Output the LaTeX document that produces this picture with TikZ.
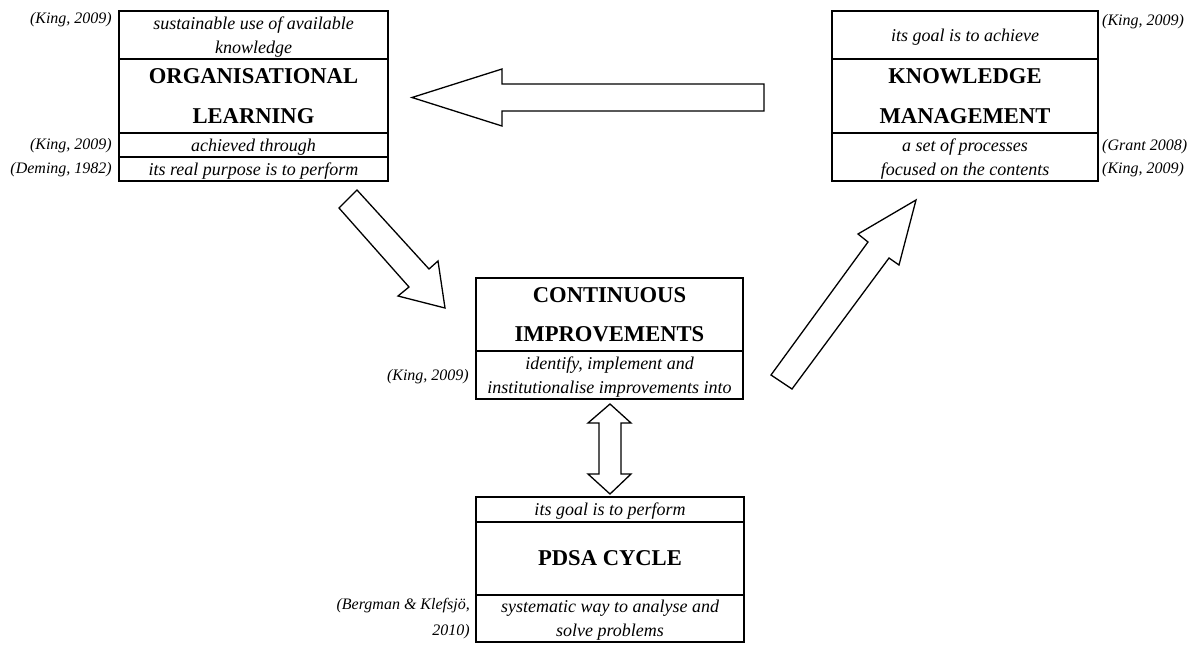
\documentclass[tikz,border=0pt]{standalone}
\usepackage{fontspec}
\setmainfont{Liberation Serif}
\begin{document}
\begin{tikzpicture}[x=1pt,y=-1pt,
  cell/.style={draw,line width=2pt,inner sep=0pt,outer sep=0pt,anchor=north west,align=center,
    text depth=-2pt,font=\fontsize{18}{24}\selectfont\itshape},
  titlecell/.style={cell,text depth=0pt,font=\fontsize{22.6}{39.5}\selectfont\bfseries},
  cite/.style={inner sep=0pt,font=\fontsize{16}{26}\selectfont\itshape},
  blockarrow/.style={draw,fill=white,line width=1.3pt,line join=miter}]
\useasboundingbox (0,0) rectangle (1197,646);

% Organisational learning
\node[cell,minimum width=269,minimum height=48] (orgUse) at (119,11)
  {sustainable use of available\\knowledge};
\node[titlecell,minimum width=269,minimum height=74] (orgTitle) at (orgUse.south west)
  {ORGANISATIONAL\\LEARNING};
\node[cell,minimum width=269,minimum height=24] (orgVia) at (orgTitle.south west)
  {achieved through};
\node[cell,minimum width=269,minimum height=24] (orgPurpose) at (orgVia.south west)
  {its real purpose is to perform};
\node[cite,anchor=east] (citeOrgA) at (112,20) {(King, 2009)};
\node[cite,anchor=east] (citeOrgB) at (112,146) {(King, 2009)};
\node[cite,anchor=east] (citeOrgC) at (112,170) {(Deming, 1982)};

% Knowledge management
\node[cell,minimum width=266,minimum height=48] (kmGoal) at (832,11)
  {its goal is to achieve};
\node[titlecell,minimum width=266,minimum height=74] (kmTitle) at (kmGoal.south west)
  {KNOWLEDGE\\MANAGEMENT};
\node[cell,minimum width=266,minimum height=48] (kmSet) at (kmTitle.south west)
  {a set of processes\\focused on the contents};
\node[cite,anchor=west] (citeKmA) at (1102,22) {(King, 2009)};
\node[cite,anchor=west] (citeKmB) at (1102,147) {(Grant 2008)};
\node[cite,anchor=west] (citeKmC) at (1102,170) {(King, 2009)};

% Continuous improvements
\node[titlecell,minimum width=267,minimum height=73] (ciTitle) at (476,278)
  {CONTINUOUS\\IMPROVEMENTS};
\node[cell,minimum width=267,minimum height=48] (ciText) at (ciTitle.south west)
  {identify, implement and\\institutionalise improvements into};
\node[cite,anchor=east] (citeCi) at (469,377) {(King, 2009)};

% PDSA cycle
\node[cell,minimum width=268,minimum height=25] (pdsaGoal) at (476,497)
  {its goal is to perform};
\node[titlecell,minimum width=268,minimum height=73] (pdsaTitle) at (pdsaGoal.south west)
  {PDSA CYCLE};
\node[cell,minimum width=268,minimum height=47] (pdsaText) at (pdsaTitle.south west)
  {systematic way to analyse and\\solve problems};
\node[cite,anchor=east,align=right] (citePdsa) at (470,619)
  {(Bergman \& Klefsjö,\\2010)};

% Block arrows
\draw[blockarrow] (764,84) -- (502,84) -- (502,69) -- (412,97.5) -- (502,126)
  -- (502,111) -- (764,111) -- cycle;
\draw[blockarrow] (339,208) -- (409,287) -- (398,296) -- (445,308) -- (438,261)
  -- (429,269) -- (357,190) -- cycle;
\draw[blockarrow] (771,375) -- (868,242) -- (858,234) -- (916,200) -- (899,265)
  -- (889,258) -- (792,389) -- cycle;
\draw[blockarrow] (610,404) -- (631,423) -- (621,423) -- (621,474) -- (631,474)
  -- (610,494) -- (588,474) -- (599,474) -- (599,423) -- (588,423) -- cycle;
\end{tikzpicture}
\end{document}
